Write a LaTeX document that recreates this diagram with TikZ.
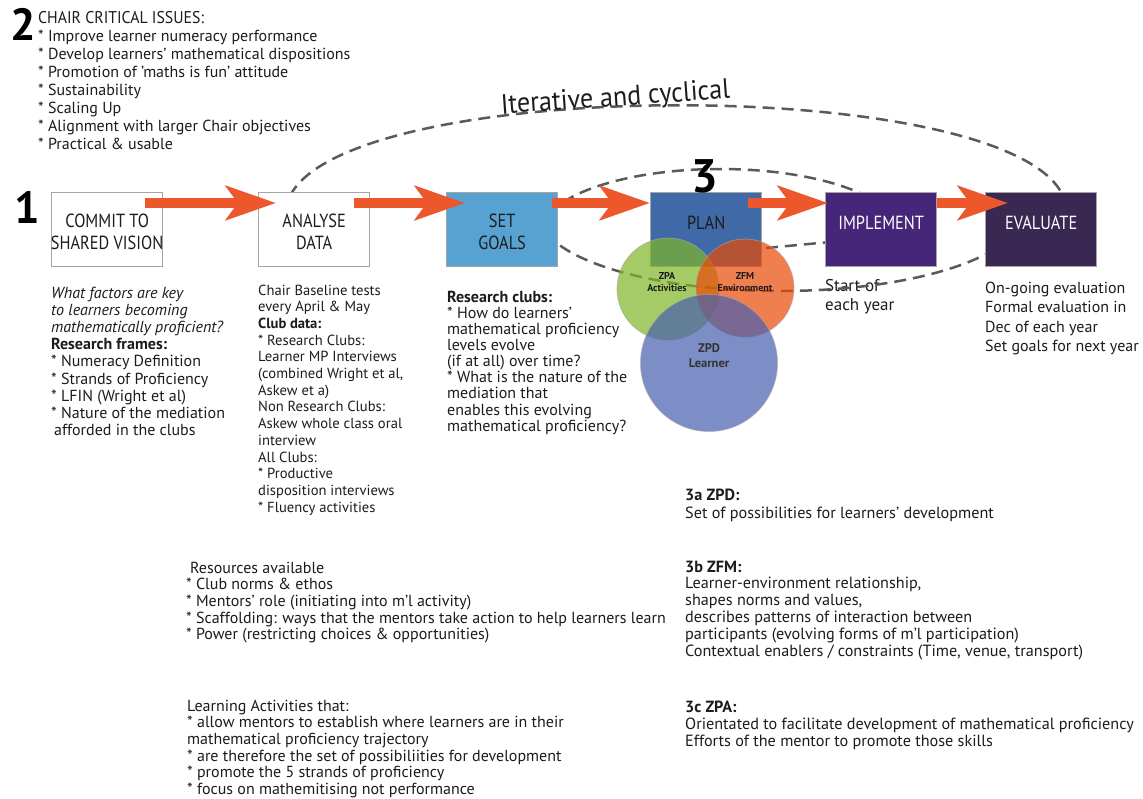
\documentclass[tikz,border=0pt]{standalone}
\usepackage{fontspec}
\setmainfont{PT Sans}
\newfontfamily\cond[FakeStretch=0.86]{PT Sans}
\newfontfamily\condB[FakeStretch=0.93]{PT Sans}
\usetikzlibrary{arrows.meta}
\definecolor{arr}{RGB}{236,88,44}
\definecolor{dashc}{RGB}{90,90,90}
\definecolor{boxline}{RGB}{165,165,165}
\definecolor{setg}{RGB}{88,162,210}
\definecolor{planc}{RGB}{64,105,168}
\definecolor{implc}{RGB}{70,38,120}
\definecolor{evalc}{RGB}{56,40,82}
\definecolor{greenc}{RGB}{128,182,39}
\definecolor{orangec}{RGB}{234,74,5}
\definecolor{bluec}{RGB}{71,95,174}
\definecolor{txt}{RGB}{28,28,28}
\newcommand{\blk}[1]{\begin{tabular}[t]{@{}l@{}}#1\end{tabular}}
\begin{document}
\begin{tikzpicture}[x=1pt,y=-1pt,
  txtblock/.style={anchor=base west,inner sep=0,text=txt},
  stagebox/.style={draw=boxline,line width=1.3pt,minimum width=111pt,minimum height=74pt,inner sep=0,anchor=north west},
  boxtext/.style={font=\cond\fontsize{19}{22}\selectfont,align=center,inner sep=0},
  dashline/.style={draw=dashc,line width=2.5pt,dash pattern=on 12pt off 7pt},
  bigarrow/.style={draw=arr,line width=10pt,-{Stealth[length=50pt,width=34pt,inset=12pt]}},
  venn/.style={circle,inner sep=0,draw=black!35,line width=0.8pt,fill opacity=0.7,draw opacity=0.6},
  clabel/.style={align=center,inner sep=0,text=txt,font=\bfseries\fontsize{10}{12.5}\selectfont},
  bignum/.style={inner sep=0,text=black,font=\bfseries\fontsize{45}{45}\selectfont}]
\useasboundingbox (0,0) rectangle (1143,798);
\fill[white] (0,0) rectangle (1143,798);
% text blocks
\node[txtblock,font=\fontsize{16}{18}\selectfont] (issues) at (38,23) {\blk{{\condB\fontsize{17}{18}\selectfont CHAIR CRITICAL ISSUES:}\\
{*} Improve learner numeracy performance\\
{*} Develop learners’ mathematical dispositions\\
{*} Promotion of ’maths is fun’ attitude\\
{*} Sustainability\\
{*} Scaling Up\\
{*} Alignment with larger Chair objectives\\
{*} Practical \& usable}};
\node[txtblock,font=\fontsize{16}{17.2}\selectfont] (col1) at (51,298) {\blk{\textit{What factors are key}\\
\textit{to learners becoming}\\
\textit{mathematically proficient?}\\
\textbf{Research frames:}\\
{*} Numeracy Definition\\
{*} Strands of Proficiency\\
{*} LFIN (Wright et al)\\
{*} Nature of the mediation\\
\hspace{3pt}afforded in the clubs}};
\node[txtblock,font=\fontsize{14.6}{16.7}\selectfont] (col2) at (258,295) {\blk{Chair Baseline tests\\
every April \& May\\
\textbf{Club data:}\\
{*} Research Clubs:\\
Learner MP Interviews\\
(combined Wright et al,\\
Askew et a)\\
Non Research Clubs:\\
Askew whole class oral\\
interview\\
All Clubs:\\
{*} Productive\\
disposition interviews\\
{*} Fluency activities}};
\node[txtblock,font=\fontsize{16}{16}\selectfont] (col3) at (447,302) {\blk{\textbf{Research clubs:}\\
{*} How do learners’\\
mathematical proficiency\\
levels evolve\\
(if at all) over time?\\
{*} What is the nature of the\\
mediation that\\
enables this evolving\\
mathematical proficiency?}};
\node[txtblock,font=\fontsize{17}{19}\selectfont] (col4) at (825,291) {\blk{Start of\\each year}};
\node[txtblock,font=\fontsize{16}{19.5}\selectfont] (col5) at (985,293) {\blk{On-going evaluation\\
Formal evaluation in\\
Dec of each year\\
Set goals for next year}};
\node[txtblock,font=\fontsize{16}{16.7}\selectfont] (res) at (186,573) {\blk{\hspace{4pt}Resources available\\
{*} Club norms \& ethos\\
{*} Mentors’ role (initiating into m’l activity)\\
{*} Scaffolding: ways that the mentors take action to help learners learn\\
{*} Power (restricting choices \& opportunities)}};
\node[txtblock,font=\fontsize{16}{16.7}\selectfont] (learn) at (187,711) {\blk{Learning Activities that:\\
{*} allow mentors to establish where learners are in their\\
mathematical proficiency trajectory\\
{*} are therefore the set of possibiliities for development\\
{*} promote the 5 strands of proficiency\\
{*} focus on mathemitising not performance}};
\node[txtblock,font=\fontsize{16.2}{18}\selectfont] (zpdtxt) at (685,500) {\blk{\textbf{3a ZPD:}\\
Set of possibilities for learners’ development}};
\node[txtblock,font=\fontsize{16.2}{16.8}\selectfont] (zfmtxt) at (685,572) {\blk{\textbf{3b ZFM:}\\
Learner-environment relationship,\\
shapes norms and values,\\
describes patterns of interaction between\\
participants (evolving forms of m’l participation)\\
Contextual enablers / constraints (Time, venue, transport)}};
\node[txtblock,font=\fontsize{16.2}{17}\selectfont] (zpatxt) at (685,712) {\blk{\textbf{3c ZPA:}\\
Orientated to facilitate development of mathematical proficiency\\
Efforts of the mentor to promote those skills}};
% dashed cycles
\draw[dashline] (290,196) .. controls (350,75) and (1010,75) .. (1063,196);
\draw[dashline] (542,232) .. controls (542,197.2) and (621.7,169) .. (720,169) .. controls (818.3,169) and (898,197.2) .. (898,232);
\draw[dashline] (766,248) -- (830,242);
\draw[dashline] (540,215) .. controls (540,257) and (647.5,291) .. (780,291) .. controls (912.5,291) and (1020,257) .. (1020,215);
\node[inner sep=0,rotate=4,anchor=base,text=txt,font=\condB\fontsize{28}{28}\selectfont] (iter) at (616,106) {Iterative and cyclical};
% stage boxes
\node[stagebox,fill=white] (commit) at (51,192) {};
\node[stagebox,fill=white] (analyse) at (258,192) {};
\node[stagebox,fill=setg] (goals) at (446,192) {};
\node[stagebox,fill=planc] (plan) at (650,192) {};
\node[stagebox,fill=implc] (impl) at (825,192) {};
\node[stagebox,fill=evalc] (eval) at (985,192) {};
\node[boxtext,text=txt] (commitl) at ([yshift=-2pt]commit.center) {COMMIT TO\\SHARED VISION};
\node[boxtext,text=txt] (analysel) at ([yshift=-2pt]analyse.center) {ANALYSE\\DATA};
\node[boxtext,text=txt] (goalsl) at ([yshift=-2pt]goals.center) {SET\\GOALS};
\node[boxtext,text=txt] (planl) at ([yshift=7pt]plan.center) {PLAN};
\node[boxtext,text=white] (impll) at ([yshift=7pt]impl.center) {IMPLEMENT};
\node[boxtext,text=white] (evall) at ([yshift=7pt]eval.center) {EVALUATE};
% venn circles
\node[venn,fill=greenc,minimum size=102pt] (zpa) at (668,289) {};
\node[venn,fill=orangec,minimum size=98pt] (zfm) at (745,288) {};
\node[venn,fill=bluec,minimum size=137pt] (zpd) at (709,363) {};
\node[clabel] (zpal) at (667,282) {ZPA\\Activities};
\node[clabel] (zfml) at (745,282) {ZFM\\Environment};
\node[clabel,font=\bfseries\fontsize{12.5}{15}\selectfont,text=black!80] (zpdl) at (709,356) {ZPD\\Learner};
% arrows
\draw[bigarrow] ([shift={(-18,11)}]commit.north east) -- ([shift={(18,11)}]analyse.north west);
\draw[bigarrow] ([shift={(-16,11)}]analyse.north east) -- ([shift={(19,11)}]goals.north west);
\draw[bigarrow] ([shift={(-6,11)}]goals.north east) -- ([shift={(0,11)}]plan.north west);
\draw[bigarrow] ([shift={(-14,11)}]plan.north east) -- ([shift={(3,11)}]impl.north west);
\draw[bigarrow] ([shift={(0,11)}]impl.north east) -- ([shift={(23,11)}]eval.north west);
% numbers
\node[bignum] (n1) at (27,207) {1};
\node[bignum] (n2) at (23,24) {2};
\node[bignum,font=\bfseries\fontsize{47}{47}\selectfont] (n3) at (705,176) {3};
\end{tikzpicture}
\end{document}
